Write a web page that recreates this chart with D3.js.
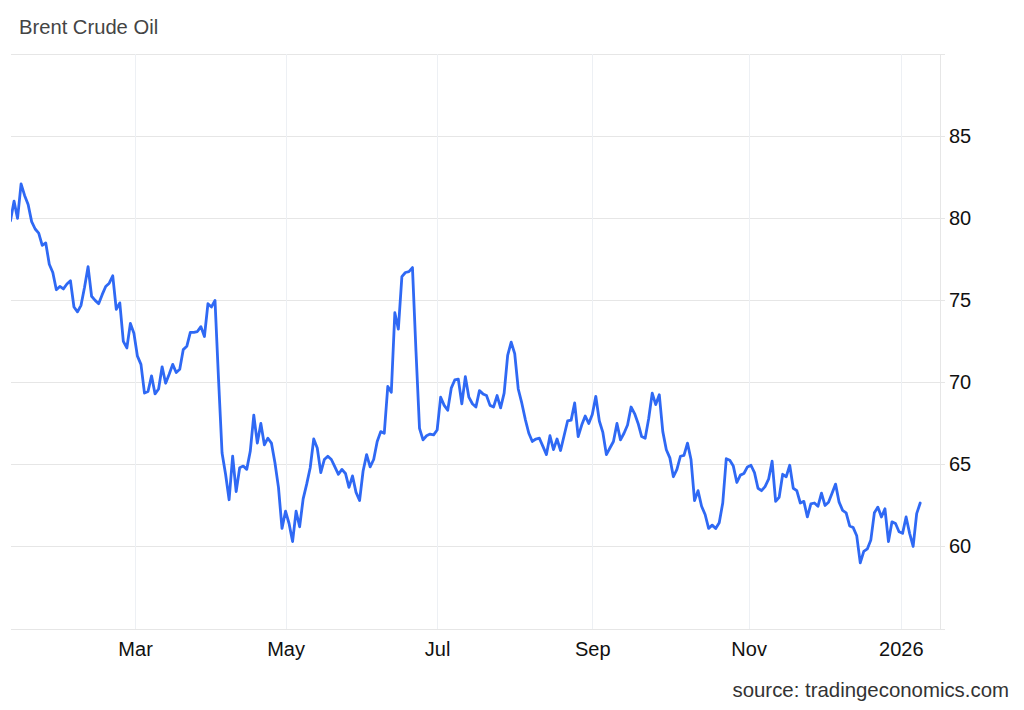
<!DOCTYPE html>
<html>
<head>
<meta charset="utf-8">
<script src="https://cdn.jsdelivr.net/npm/d3@7"></script>
<style>
  body { margin: 0; background: #fff; }
  svg text { font-family: "Liberation Sans", Arial, Helvetica, sans-serif; }
</style>
</head>
<body>
<svg id="chart" width="1024" height="710"></svg>
<script>
// ---------- data ----------
const chartTitle = "Brent Crude Oil";
const sourceText = "source: tradingeconomics.com";
const firstDay = "2025-01-10";
const lastDay = "2026-01-09";
const closedDays = ["2025-04-18", "2026-01-01"];
const monthStarts = ["2025-03-01", "2025-05-01", "2025-07-01", "2025-09-01", "2025-11-01", "2026-01-01"];
const monthLabels = ["Mar", "May", "Jul", "Sep", "Nov", "2026"];
const yTickValues = [60, 65, 70, 75, 80, 85];
const yGridValues = [55, 60, 65, 70, 75, 80, 85, 90];

// daily closes (USD/bbl), one per trading day
const jan25 = [79.85, 81.05, 80.0, 82.1, 81.4, 80.85, 79.8, 79.35, 79.1, 78.35, 78.5, 77.2, 76.7, 75.65, 75.85, 75.7];
const feb25 = [76.0, 76.2, 74.6, 74.3, 74.7, 75.8, 77.05, 75.25, 75.0, 74.8, 75.35, 75.85, 76.05, 76.5, 74.45, 74.85, 72.5, 72.1, 73.6, 73.0];
const mar25 = [71.6, 71.1, 69.35, 69.45, 70.4, 69.3, 69.6, 70.95, 69.95, 70.5, 71.1, 70.6, 70.8, 72.0, 72.2, 73.05, 73.05, 73.1, 73.4, 72.8, 74.8];
const apr25 = [74.6, 75.0, 70.2, 65.7, 64.4, 62.85, 65.5, 63.35, 64.8, 64.9, 64.7, 65.8, 68.0, 66.3, 67.5, 66.2, 66.6, 66.3, 65.1, 63.6, 61.1];
const may25 = [62.15, 61.4, 60.3, 62.15, 61.2, 62.9, 63.8, 64.8, 66.55, 66.0, 64.5, 65.3, 65.5, 65.3, 64.85, 64.4, 64.7, 64.45, 63.6, 64.3, 63.3, 62.8];
const jun25 = [64.6, 65.6, 64.85, 65.3, 66.4, 67.0, 66.9, 69.75, 69.4, 74.25, 73.25, 76.45, 76.7, 76.75, 77.0, 71.9, 67.2, 66.5, 66.75, 66.85, 66.8];
const jul25 = [67.1, 69.1, 68.6, 68.3, 69.65, 70.15, 70.2, 68.7, 70.35, 69.1, 68.7, 68.5, 69.5, 69.3, 69.2, 68.6, 68.5, 69.2, 68.45, 69.35, 71.65, 72.45, 71.75];
const aug25 = [69.6, 68.75, 67.75, 66.9, 66.4, 66.55, 66.6, 66.1, 65.6, 66.75, 65.9, 66.55, 65.85, 66.75, 67.65, 67.7, 68.75, 66.7, 67.4, 67.95, 67.5];
const sep25 = [68.05, 69.15, 67.65, 66.95, 65.6, 66.0, 66.4, 67.5, 66.5, 66.9, 67.4, 68.5, 68.1, 67.5, 66.7, 66.6, 67.8, 69.35, 68.65, 69.25, 67.0, 65.9];
const oct25 = [65.4, 64.25, 64.7, 65.5, 65.55, 66.3, 65.3, 62.8, 63.4, 62.45, 61.95, 61.1, 61.3, 61.1, 61.45, 62.65, 65.35, 65.25, 64.9, 63.9, 64.35, 64.45, 64.85];
const nov25 = [64.95, 64.5, 63.55, 63.4, 63.65, 64.1, 65.2, 62.75, 63.0, 64.4, 64.25, 64.95, 63.55, 63.4, 62.65, 62.75, 61.8, 62.6, 62.65, 62.45];
const dec25 = [63.25, 62.5, 62.7, 63.25, 63.8, 62.7, 62.2, 62.05, 61.25, 61.15, 60.65, 59.0, 59.7, 59.85, 60.4, 62.05, 62.4, 61.8, 62.3, 60.3, 61.5, 61.4, 60.9];
const jan26 = [60.8, 61.8, 60.8, 60.0, 62.0, 62.65];

// ---------- build ----------
const parse = d3.utcParse("%Y-%m-%d");
const fmt = d3.utcFormat("%Y-%m-%d");
const closedSet = new Set(closedDays);
const tradingDays = d3.utcDay.range(parse(firstDay), d3.utcDay.offset(parse(lastDay), 1))
  .filter(d => d.getUTCDay() !== 0 && d.getUTCDay() !== 6 && !closedSet.has(fmt(d)));
const prices = [].concat(jan25, feb25, mar25, apr25, may25, jun25, jul25, aug25, sep25, oct25, nov25, dec25, jan26);
const series = tradingDays.map((d, i) => ({ date: d, value: prices[i] })).filter(d => d.value != null);

// ordinal (trading-day) position of each month start
function ordinalPos(date) {
  const t = +date;
  for (let i = 0; i < tradingDays.length - 1; i++) {
    const a = +tradingDays[i], b = +tradingDays[i + 1];
    if (t === a) return i;
    if (t > a && t < b) return i + (t - a) / (b - a);
  }
  return tradingDays.length - 1;
}
const tickPos = monthStarts.map(s => ordinalPos(parse(s)));

// ---------- layout ----------
const plotLeft = 11, plotRight = 940, plotTop = 53.5, plotBottom = 628.5;
const svg = d3.select("#chart");

const x = d3.scaleLinear().domain([0, tradingDays.length - 1]).range([10.5, 920.2]);
const y = d3.scaleLinear().domain([55, 90]).range([628.5, 54.3]);

// horizontal grid lines (extend slightly past the right axis line)
const gy = svg.append("g").attr("transform", "translate(945,0)")
  .call(d3.axisLeft(y).tickValues(yGridValues).tickSize(945 - plotLeft).tickFormat(""));
gy.select(".domain").remove();
gy.selectAll(".tick line").attr("stroke", "#e6e6e6").attr("shape-rendering", "crispEdges");

// vertical grid lines
const gx = svg.append("g").attr("transform", `translate(0,${plotBottom})`)
  .call(d3.axisBottom(x).tickValues(tickPos).tickSize(-(plotBottom - plotTop)).tickFormat(""));
gx.select(".domain").remove();
gx.selectAll(".tick line").attr("stroke", "#edf0f4").attr("shape-rendering", "crispEdges");

// right axis line
svg.append("line")
  .attr("x1", plotRight).attr("x2", plotRight)
  .attr("y1", plotTop).attr("y2", plotBottom)
  .attr("stroke", "#e6e6e6").attr("shape-rendering", "crispEdges");

// y labels
const yl = svg.append("g").attr("transform", `translate(${plotRight},0)`)
  .call(d3.axisRight(y).tickValues(yTickValues).tickSize(0).tickPadding(9));
yl.select(".domain").remove();
yl.selectAll("text").attr("font-size", 20).attr("fill", "#111")
  .style("font-family", '"Liberation Sans", Arial, sans-serif');

// x labels
const xl = svg.append("g").attr("transform", `translate(0,${plotBottom})`)
  .call(d3.axisBottom(x).tickValues(tickPos).tickSize(0).tickPadding(13.5)
    .tickFormat((d, i) => monthLabels[i]));
xl.select(".domain").remove();
xl.selectAll("text").attr("font-size", 20).attr("fill", "#111")
  .style("font-family", '"Liberation Sans", Arial, sans-serif');

// clip & line
svg.append("clipPath").attr("id", "plotClip").append("rect")
  .attr("x", plotLeft).attr("y", plotTop - 10)
  .attr("width", plotRight - plotLeft).attr("height", plotBottom - plotTop + 10);

const line = d3.line().x((d, i) => x(i)).y(d => y(d.value));
svg.append("path")
  .datum(series)
  .attr("clip-path", "url(#plotClip)")
  .attr("fill", "none")
  .attr("stroke", "#2f69f4")
  .attr("stroke-width", 2.8)
  .attr("stroke-linejoin", "round")
  .attr("stroke-linecap", "round")
  .attr("d", line);

// title & source
svg.append("text").attr("x", 19).attr("y", 34)
  .attr("font-size", 20.2).attr("fill", "#444")
  .text(chartTitle);
svg.append("text").attr("x", 1009).attr("y", 697)
  .attr("text-anchor", "end")
  .attr("font-size", 20.4).attr("fill", "#333")
  .text(sourceText);
</script>
</body>
</html>
